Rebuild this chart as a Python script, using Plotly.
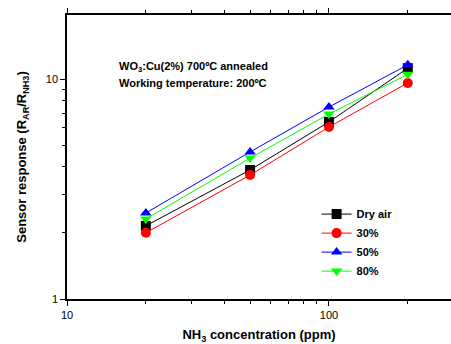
import plotly.graph_objects as go

conc = [20, 50, 100, 200]
dry_air = [2.15, 3.86, 6.38, 11.2]
rh30 = [2.0, 3.66, 6.05, 9.6]
rh50 = [2.46, 4.66, 7.46, 11.6]
rh80 = [2.31, 4.37, 6.93, 10.5]

series = [
    ("Dry air", dry_air, "black", "square"),
    ("30%", rh30, "red", "circle"),
    ("50%", rh50, "blue", "triangle-up"),
    ("80%", rh80, "#00ff00", "triangle-down"),
]

fig = go.Figure()
for name, vals, col, sym in series:
    fig.add_trace(go.Scatter(
        x=conc, y=vals, mode="lines+markers", name=name,
        line=dict(color=col, width=1),
        marker=dict(symbol=sym, size=10, color=col),
    ))

font = "Liberation Sans, Arial, sans-serif"
fig.update_layout(
    width=451, height=344,
    margin=dict(l=67, r=0, t=15, b=45),
    paper_bgcolor="white", plot_bgcolor="white",
    font=dict(family=font, size=11, color="black"),
    showlegend=True,
    legend=dict(x=0.65, y=0.35, xanchor="left", yanchor="top",
                bgcolor="rgba(0,0,0,0)", font=dict(size=11, family=font, weight="bold"),
                itemwidth=30, tracegroupgap=0),
    xaxis=dict(type="log", range=[1, 2.466], showgrid=False, zeroline=False,
               showline=True, linecolor="black", linewidth=1.5, mirror="allticks",
               ticks="outside", ticklen=5, tickwidth=1, tickcolor="black",
               tickvals=[10, 100], ticktext=["10", "100"],
               minor=dict(ticks="outside", ticklen=3, tickcolor="black",
                          tickvals=[20, 30, 40, 50, 60, 70, 80, 90, 200, 300]),
               title=dict(text="<b>NH<sub>3</sub> concentration (ppm)</b>", font=dict(size=13), standoff=10)),
    yaxis=dict(type="log", range=[0, 1.291], showgrid=False, zeroline=False,
               showline=True, linecolor="black", linewidth=1.5, mirror=False,
               ticks="outside", ticklen=5, tickwidth=1, tickcolor="black",
               tickvals=[1, 10], ticktext=["1", "10"],
               minor=dict(ticks="outside", ticklen=3, tickcolor="black",
                          tickvals=[2, 3, 4, 5, 6, 7, 8, 9]),
               title=dict(text="<b>Sensor response (R<sub>AR</sub>/R<sub>NH3</sub>)</b>", font=dict(size=13), standoff=16)),
    annotations=[
        dict(text="<b>WO<sub>3</sub>:Cu(2%) 700ºC annealed</b>", xref="paper", yref="paper",
             x=0.131, y=0.818, xanchor="left", yanchor="middle", showarrow=False, font=dict(size=11)),
        dict(text="<b>Working temperature: 200ºC</b>", xref="paper", yref="paper",
             x=0.131, y=0.762, xanchor="left", yanchor="middle", showarrow=False, font=dict(size=11)),
    ],
)
fig.write_html("out.html")
